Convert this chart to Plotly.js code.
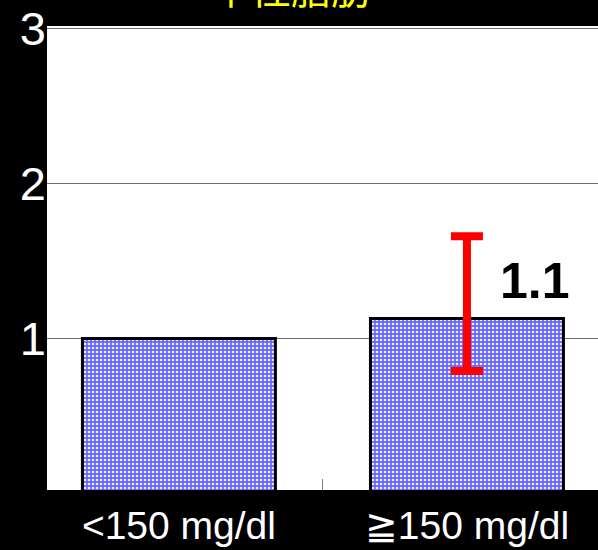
<!DOCTYPE html>
<html>
<head>
<meta charset="utf-8">
<script src="https://cdn.plot.ly/plotly-3.0.1.min.js"></script>
<style>
  html, body { margin: 0; padding: 0; background: #000; }
  #chart { width: 598px; height: 550px; }
</style>
</head>
<body>
<div id="chart"></div>
<script>
// ---- data ----
const categories = ["<150 mg/dl", "≧150 mg/dl"];
const values = [1.0, 1.13];
const errUpper = [null, 0.53];   // upper CI - value
const errLower = [null, 0.34];   // value - lower CI
const valueLabels = ["", "1.1"];
const chartTitle = "中性脂肪";
const yTicks = [1, 2, 3];
const yTickText = ["1", "2", "3"];

const barTrace = {
  type: "bar",
  x: categories,
  y: values,
  width: 0.67,
  marker: {
    color: "#6a6aff",
    line: { color: "#000000", width: 3 },
    pattern: { shape: ".", bgcolor: "#6565ff", fgcolor: "#eeeeff", size: 4, solidity: 0.35 }
  },
  hoverinfo: "none"
};

// error bars only where a CI exists
const eIdx = values.map((v, i) => i).filter(i => errUpper[i] !== null);
const errTrace = {
  type: "scatter",
  mode: "markers",
  x: eIdx.map(i => categories[i]),
  y: eIdx.map(i => values[i]),
  marker: { size: 1, opacity: 0 },
  error_y: {
    type: "data",
    symmetric: false,
    array: eIdx.map(i => errUpper[i]),
    arrayminus: eIdx.map(i => errLower[i]),
    color: "#ff0000",
    thickness: 8,
    width: 16
  },
  hoverinfo: "none"
};

const annotations = [
  {
    text: chartTitle,
    xref: "paper", yref: "paper",
    x: 0.443, y: 1.084,
    xanchor: "center", yanchor: "middle",
    showarrow: false,
    font: { family: "Noto Sans CJK JP", size: 40, color: "#ffff00" }
  }
];
valueLabels.forEach((t, i) => {
  if (t) {
    annotations.push({
      text: "<b>" + t + "</b>",
      xref: "paper", yref: "y",
      x: 0.886, y: 1.37,
      xanchor: "center", yanchor: "middle",
      showarrow: false,
      font: { family: "Liberation Sans, Arial, sans-serif", size: 50, color: "#000000" }
    });
  }
});

const layout = {
  width: 598,
  height: 550,
  paper_bgcolor: "#000000",
  plot_bgcolor: "#ffffff",
  margin: { l: 47, r: 0, t: 26, b: 60, pad: 0 },
  showlegend: false,
  xaxis: {
    type: "category",
    range: [-0.458, 1.455],
    tickson: "boundaries",
    ticks: "inside",
    ticklen: 11,
    tickwidth: 1,
    tickcolor: "#808080",
    showgrid: false,
    zeroline: false,
    showline: false,
    ticklabelstandoff: 9,
    tickfont: { family: "Liberation Sans, Arial, sans-serif", size: 39, color: "#ffffff" }
  },
  yaxis: {
    range: [0.023, 3.016],
    tickvals: yTicks,
    ticktext: yTickText,
    showgrid: true,
    gridcolor: "#707070",
    gridwidth: 1,
    zeroline: false,
    showline: false,
    ticks: "",
    tickfont: { family: "Liberation Sans, Arial, sans-serif", size: 47, color: "#ffffff" }
  },
  annotations: annotations
};

Plotly.newPlot("chart", [barTrace, errTrace], layout, { displayModeBar: false, staticPlot: true });
</script>
</body>
</html>
